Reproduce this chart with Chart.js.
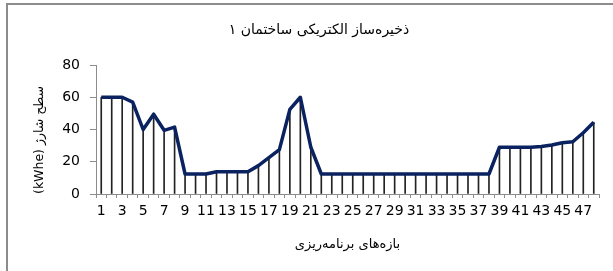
<!DOCTYPE html>
<html>
<head>
<meta charset="utf-8">
<script src="https://cdn.jsdelivr.net/npm/chart.js@4"></script>
<style>
  html, body { margin: 0; padding: 0; background: #fff; }
  #wrap { position: relative; width: 613px; height: 271px; }
</style>
</head>
<body>
<div id="wrap"><canvas id="chart" width="613" height="271"></canvas></div>
<script>
// Chart data
const chartTitle = 'ذخیره‌ساز الکتریکی ساختمان ۱';
const xTitle = 'بازه‌های برنامه‌ریزی';
const yTitle = '(kWhe) سطح شارژ';

const periods = Array.from({ length: 48 }, (_, i) => String(i + 1));
const chargeLevel = [
    60, 60, 60, 57, 40, 49.5, 39.5, 41.5, 12.4, 12.4,
    12.4, 13.8, 13.8, 13.8, 13.8, 17.6, 22.5, 27.5, 52.5, 60,
    29, 12.4, 12.4, 12.4, 12.4, 12.4, 12.4, 12.4, 12.4, 12.4,
    12.4, 12.4, 12.4, 12.4, 12.4, 12.4, 12.4, 12.4, 29, 29,
    29, 29, 29.5, 30.4, 31.8, 32.4, 38, 44.5
];
const yTicks = [0, 20, 40, 60, 80];

// Frame + chart title + x title drawn on the canvas
const framePlugin = {
    id: 'frame',
    beforeDraw(chart) {
        const ctx = chart.ctx;
        ctx.save();
        ctx.strokeStyle = '#8c8c8c';
        ctx.lineWidth = 2;
        ctx.beginPath();
        ctx.moveTo(7, 271);
        ctx.lineTo(7, 4);
        ctx.lineTo(613, 4);
        ctx.stroke();
        ctx.restore();
    },
    afterDraw(chart) {
        const ctx = chart.ctx;
        const area = chart.chartArea;
        ctx.save();
        ctx.fillStyle = '#000';
        ctx.textAlign = 'center';
        ctx.textBaseline = 'middle';
        ctx.font = '14px "DejaVu Sans"';
        ctx.fillText(chartTitle, 319, 30);
        ctx.font = '13px "DejaVu Sans"';
        ctx.fillText(xTitle, (area.left + area.right) / 2, 245);
        ctx.restore();
    }
};

const ctx = document.getElementById('chart').getContext('2d');
new Chart(ctx, {
    data: {
        labels: periods,
        datasets: [
            {
                type: 'line',
                data: chargeLevel,
                borderColor: '#0a2260',
                borderWidth: 3.5,
                pointRadius: 0,
                tension: 0,
                borderJoinStyle: 'round',
                order: 0
            },
            {
                // drop lines
                type: 'bar',
                data: chargeLevel,
                backgroundColor: '#222',
                barThickness: 1,
                order: 1
            }
        ]
    },
    options: {
        responsive: false,
        animation: false,
        events: [],
        layout: { padding: { left: 8, right: 14, top: 65, bottom: 10 } },
        plugins: {
            legend: { display: false },
            title: { display: false },
            tooltip: { enabled: false }
        },
        scales: {
            x: {
                offset: true,
                grid: {
                    offset: true,
                    drawOnChartArea: false,
                    tickLength: 4,
                    color: '#8c8c8c'
                },
                border: { color: '#8c8c8c', width: 1 },
                ticks: {
                    autoSkip: false,
                    maxRotation: 0,
                    minRotation: 0,
                    padding: 5,
                    color: '#000',
                    font: { family: 'DejaVu Sans', size: 14 },
                    callback: function (value, index) {
                        return index % 2 === 0 ? this.getLabelForValue(value) : '';
                    }
                },
                afterFit(scale) { scale.height = 271 - 10 - 194; }
            },
            y: {
                min: 0,
                max: 80,
                afterBuildTicks(scale) { scale.ticks = yTicks.map(v => ({ value: v })); },
                grid: {
                    drawOnChartArea: false,
                    tickLength: 6,
                    color: '#8c8c8c'
                },
                border: { color: '#8c8c8c', width: 1 },
                ticks: {
                    padding: 10,
                    color: '#000',
                    font: { family: 'DejaVu Sans', size: 14 }
                },
                title: {
                    display: true,
                    text: yTitle,
                    align: 'start',
                    color: '#000',
                    font: { family: 'DejaVu Sans', size: 12.5 },
                    padding: { top: 24, bottom: 0 }
                },
                afterFit(scale) { scale.width = 96 - 8; }
            }
        }
    },
    plugins: [framePlugin]
});
</script>
</body>
</html>
